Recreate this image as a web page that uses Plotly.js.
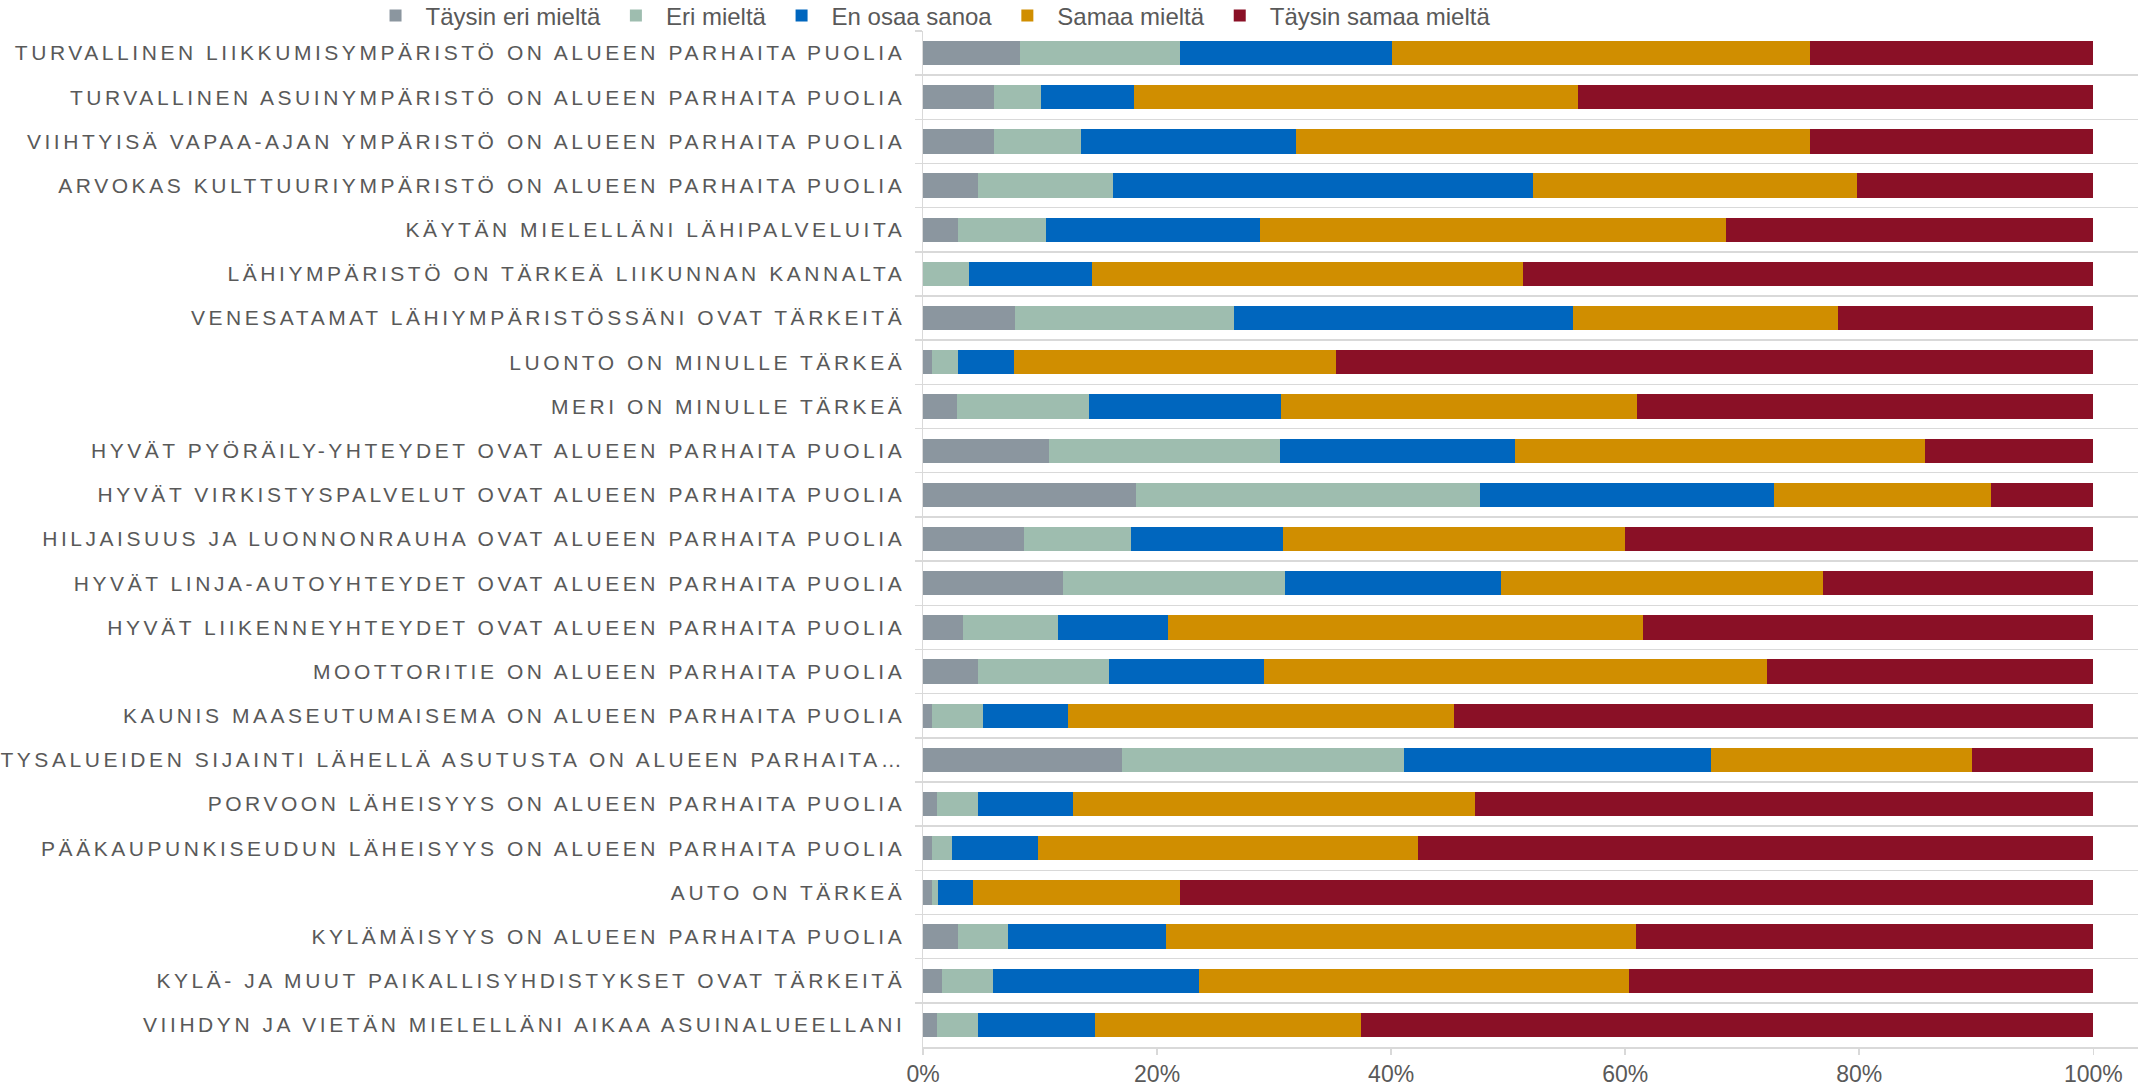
<!DOCTYPE html>
<html>
<head>
<meta charset="utf-8">
<script src="https://cdn.plot.ly/plotly-3.0.1.min.js"></script>
<style>
  html, body { margin: 0; padding: 0; background: #ffffff; }
  #chart { width: 2138px; height: 1087px; }
  .ytick text { letter-spacing: 3.55px; }
</style>
</head>
<body>
<div id="chart"></div>
<script>
// Categories (top to bottom)
const categories = [
  "TURVALLINEN LIIKKUMISYMPÄRISTÖ ON ALUEEN PARHAITA PUOLIA",
  "TURVALLINEN ASUINYMPÄRISTÖ ON ALUEEN PARHAITA PUOLIA",
  "VIIHTYISÄ VAPAA-AJAN YMPÄRISTÖ ON ALUEEN PARHAITA PUOLIA",
  "ARVOKAS KULTTUURIYMPÄRISTÖ ON ALUEEN PARHAITA PUOLIA",
  "KÄYTÄN MIELELLÄNI LÄHIPALVELUITA",
  "LÄHIYMPÄRISTÖ ON TÄRKEÄ LIIKUNNAN KANNALTA",
  "VENESATAMAT LÄHIYMPÄRISTÖSSÄNI OVAT TÄRKEITÄ",
  "LUONTO ON MINULLE TÄRKEÄ",
  "MERI ON MINULLE TÄRKEÄ",
  "HYVÄT PYÖRÄILY-YHTEYDET OVAT ALUEEN PARHAITA PUOLIA",
  "HYVÄT VIRKISTYSPALVELUT OVAT ALUEEN PARHAITA PUOLIA",
  "HILJAISUUS JA LUONNONRAUHA OVAT ALUEEN PARHAITA PUOLIA",
  "HYVÄT LINJA-AUTOYHTEYDET OVAT ALUEEN PARHAITA PUOLIA",
  "HYVÄT LIIKENNEYHTEYDET OVAT ALUEEN PARHAITA PUOLIA",
  "MOOTTORITIE ON ALUEEN PARHAITA PUOLIA",
  "KAUNIS MAASEUTUMAISEMA ON ALUEEN PARHAITA PUOLIA",
  "YRITYSALUEIDEN SIJAINTI LÄHELLÄ ASUTUSTA ON ALUEEN PARHAITA…",
  "PORVOON LÄHEISYYS ON ALUEEN PARHAITA PUOLIA",
  "PÄÄKAUPUNKISEUDUN LÄHEISYYS ON ALUEEN PARHAITA PUOLIA",
  "AUTO ON TÄRKEÄ",
  "KYLÄMÄISYYS ON ALUEEN PARHAITA PUOLIA",
  "KYLÄ- JA MUUT PAIKALLISYHDISTYKSET OVAT TÄRKEITÄ",
  "VIIHDYN JA VIETÄN MIELELLÄNI AIKAA ASUINALUEELLANI"
];

// Series names
const seriesNames = ["Täysin eri mieltä", "Eri mieltä", "En osaa sanoa", "Samaa mieltä", "Täysin samaa mieltä"];

// Values in percent (same order as categories)
const taysinEri = [8.3, 6.1, 6.1, 4.7, 3.0, 0.0, 7.9, 0.8, 2.9, 10.8, 18.2, 8.6, 12.0, 3.4, 4.7, 0.8, 17.0, 1.2, 0.8, 0.8, 3.0, 1.6, 1.2];
const eri        = [13.7, 4.0, 7.4, 11.5, 7.5, 3.9, 18.7, 2.2, 11.3, 19.7, 29.4, 9.2, 18.9, 8.1, 11.2, 4.3, 24.1, 3.5, 1.7, 0.5, 4.3, 4.4, 3.5];
const enOsaa     = [18.1, 7.9, 18.4, 35.9, 18.3, 10.5, 28.9, 4.8, 16.4, 20.1, 25.1, 13.0, 18.5, 9.4, 13.2, 7.3, 26.2, 8.1, 7.3, 3.0, 13.5, 17.6, 10.0];
const samaa      = [35.7, 38.0, 43.9, 27.7, 39.8, 36.9, 22.7, 27.5, 30.4, 35.0, 18.6, 29.2, 27.5, 40.6, 43.0, 33.0, 22.3, 34.4, 32.5, 17.7, 40.1, 36.7, 22.7];
const taysinSamaa= [24.2, 44.0, 24.2, 20.2, 31.4, 48.7, 21.8, 64.7, 39.0, 14.4, 8.7, 40.0, 23.1, 38.5, 27.9, 54.6, 10.4, 52.8, 57.7, 78.0, 39.1, 39.7, 62.6];

// X axis ticks
const xTickVals = [0, 20, 40, 60, 80, 100];
const xTickText = ["0%", "20%", "40%", "60%", "80%", "100%"];

const seriesValues = [taysinEri, eri, enOsaa, samaa, taysinSamaa];
const seriesColors = ["#8B969F", "#9EBDAF", "#0066BE", "#D08E00", "#8A1026"];

const traces = seriesNames.map((name, i) => ({
  type: "bar",
  orientation: "h",
  name: name,
  x: seriesValues[i],
  y: categories,
  marker: { color: seriesColors[i], line: { width: 0 } },
  hoverinfo: "skip"
}));

const fontFamily = '"Liberation Sans", Arial, sans-serif';
const textColor = "#595959";
const lineColor = "#D9D9D9";

const layout = {
  width: 2138,
  height: 1087,
  paper_bgcolor: "#ffffff",
  plot_bgcolor: "#ffffff",
  barmode: "stack",
  bargap: 0.45,
  margin: { l: 923, r: 0, t: 31, b: 40, pad: 0, autoexpand: false },
  font: { family: fontFamily, color: textColor },
  showlegend: true,
  legend: {
    orientation: "h",
    x: 0.0062,
    xanchor: "center",
    y: 1.0148,
    yanchor: "middle",
    font: { family: fontFamily, size: 24, color: textColor },
    itemwidth: 50,
    traceorder: "normal",
    bgcolor: "rgba(0,0,0,0)"
  },
  xaxis: {
    range: [0, 103.82],
    tickmode: "array",
    tickvals: xTickVals,
    ticktext: xTickText,
    showgrid: false,
    zeroline: false,
    showline: true,
    linecolor: lineColor,
    linewidth: 1.5,
    ticks: "outside",
    ticklen: 6,
    tickwidth: 1.5,
    tickcolor: lineColor,
    tickfont: { family: fontFamily, size: 23, color: textColor },
    fixedrange: true
  },
  yaxis: {
    type: "category",
    categoryorder: "array",
    categoryarray: categories,
    autorange: "reversed",
    tickson: "boundaries",
    ticks: "outside",
    ticklen: 7,
    tickwidth: 1.5,
    tickcolor: lineColor,
    showgrid: true,
    gridcolor: lineColor,
    gridwidth: 1.5,
    showline: true,
    linecolor: lineColor,
    linewidth: 1.5,
    zeroline: false,
    ticklabelstandoff: 12,
    tickfont: { family: fontFamily, size: 21, color: textColor },
    fixedrange: true
  }
};

Plotly.newPlot("chart", traces, layout, { displayModeBar: false, staticPlot: true });
</script>
</body>
</html>
